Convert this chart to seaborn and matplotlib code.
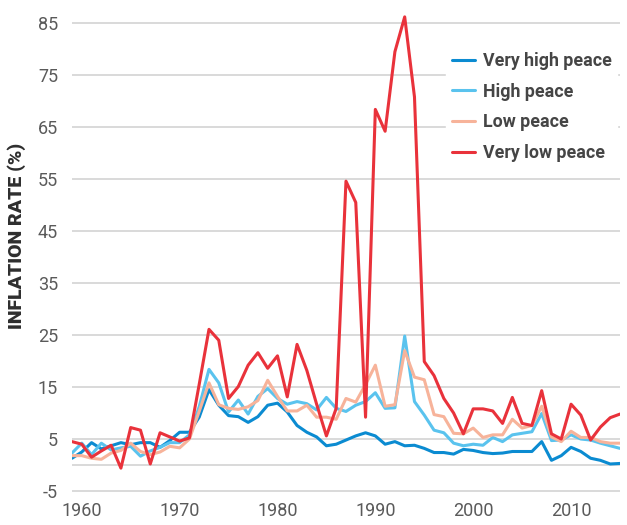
import matplotlib
matplotlib.use("Agg")
import matplotlib.pyplot as plt
from matplotlib.lines import Line2D
import seaborn as sns
import pandas as pd

years = list(range(1959, 2016))
very_high = [1.3, 2.5, 4.3, 3.1, 3.7, 4.3, 3.9, 4.3, 4.3, 3.4,
             4.7, 6.3, 6.3, 9.2, 14.5, 11.5, 9.5, 9.3, 8.2, 9.3,
             11.5, 11.9, 10.2, 7.6, 6.3, 5.4, 3.7, 4.0, 4.8, 5.6,
             6.2, 5.6, 4.0, 4.5, 3.7, 3.8, 3.2, 2.4, 2.4, 2.1,
             3.0, 2.8, 2.4, 2.2, 2.3, 2.6, 2.6, 2.6, 4.5, 0.9,
             1.8, 3.4, 2.6, 1.3, 0.9, 0.2, 0.3]
high = [2.3, 4.2, 2.0, 4.2, 2.9, 3.3, 3.6, 1.7, 2.7, 3.4,
        4.3, 4.3, 5.8, 11.2, 18.4, 15.8, 10.2, 12.5, 9.8, 13.2,
        14.7, 12.8, 11.7, 12.2, 11.8, 10.6, 13.0, 10.9, 10.3, 11.5,
        12.2, 13.9, 10.9, 11.0, 24.8, 12.2, 9.6, 6.7, 6.2, 4.2,
        3.7, 4.0, 3.8, 5.3, 4.5, 5.8, 6.1, 6.4, 9.9, 4.7,
        4.8, 5.8, 5.0, 4.8, 4.2, 3.7, 3.2]
low = [1.8, 1.8, 1.3, 1.1, 2.3, 2.8, 4.2, 2.6, 2.0, 2.5,
       3.6, 3.3, 5.0, 10.3, 15.8, 11.6, 10.9, 10.7, 11.2, 12.4,
       16.3, 13.2, 10.4, 10.4, 11.5, 9.2, 9.2, 8.8, 12.8, 12.1,
       15.5, 19.2, 11.3, 11.6, 22.0, 16.9, 16.4, 9.7, 9.3, 6.1,
       6.0, 7.1, 5.3, 5.8, 5.8, 8.8, 7.1, 7.6, 11.3, 5.4,
       4.5, 6.5, 5.3, 5.3, 4.5, 4.2, 4.2]
very_low = [4.5, 4.0, 1.5, 2.7, 3.8, -0.6, 7.2, 6.7, 0.2, 6.2,
            5.4, 4.6, 5.2, 15.5, 26.1, 24.0, 12.8, 15.1, 19.2, 21.6,
            18.6, 21.0, 13.1, 23.2, 18.2, 11.7, 5.6, 10.9, 54.6, 50.5,
            9.2, 68.4, 64.2, 79.5, 86.2, 70.8, 19.9, 17.2, 12.8, 10.0,
            6.0, 10.8, 10.8, 10.4, 8.0, 13.0, 8.0, 7.6, 14.3, 6.0,
            5.0, 11.7, 9.6, 4.8, 7.3, 9.1, 9.8]

groups = ["Very high peace", "High peace", "Low peace", "Very low peace"]
colors = ["#0b8bd1", "#5ac3ee", "#f7b39a", "#e9323b"]
y_ticks = [-5, 5, 15, 25, 35, 45, 55, 65, 75, 85]
x_ticks = [1960, 1970, 1980, 1990, 2000, 2010]

df = pd.DataFrame({
    "year": years * 4,
    "rate": very_high + high + low + very_low,
    "group": [g for g in groups for _ in years],
})

sns.set_style("white")
plt.rcParams["font.family"] = ["Roboto", "DejaVu Sans"]
plt.rcParams["axes.unicode_minus"] = False

fig = plt.figure(figsize=(6.27, 5.25), dpi=100)
ax = fig.add_axes([0.1148, 0.0598, 0.874, 0.916])

for y in y_ticks + [0]:
    ax.axhline(y, color="#cfcfcf", lw=1.1, zorder=0)

sns.lineplot(data=df, x="year", y="rate", hue="group", hue_order=groups,
             palette=colors, linewidth=2.2, ax=ax, legend=False, zorder=2)

ax.set_xlim(1959, 2015)
ax.set_ylim(-5.5, 87)
ax.set_yticks(y_ticks)
ax.set_xticks(x_ticks)
ax.tick_params(axis="both", length=0, labelsize=13, labelcolor="#5a5a5a")
ax.tick_params(axis="y", pad=10)
ax.tick_params(axis="x", pad=6)
for s in ax.spines.values():
    s.set_visible(False)
ax.set_xlabel("")
ax.set_ylabel("INFLATION RATE (%)", fontsize=14, fontweight="black",
              color="#2e2e2e")
ax.yaxis.set_label_coords(-0.084, 0.535)

handles = [Line2D([0], [0], color=c, lw=2.2) for c in colors]
leg = fig.legend(handles, groups, loc="upper left", bbox_to_anchor=(0.712, 0.911),
                 frameon=True, fancybox=False, edgecolor="white", facecolor="white",
                 framealpha=1, handlelength=1.3, handletextpad=0.45,
                 labelspacing=0.71, borderpad=0.3, borderaxespad=0,
                 prop={"weight": "bold", "size": 12.8})
for t in leg.get_texts():
    t.set_color("#454545")

fig.savefig("out.png", dpi=100)
